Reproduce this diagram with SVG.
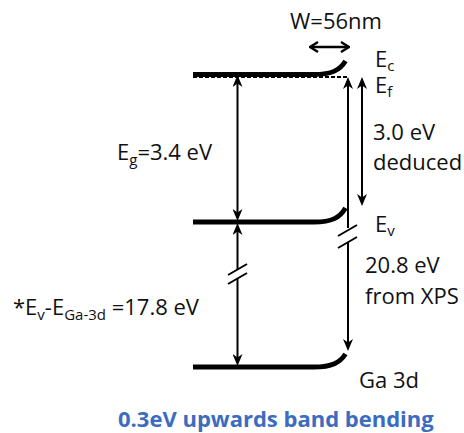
<svg xmlns="http://www.w3.org/2000/svg" width="464" height="433" viewBox="0 0 464 433">
<defs>
<marker id="ah" viewBox="0 0 12 10" refX="7" refY="5" markerWidth="12" markerHeight="10" markerUnits="userSpaceOnUse" orient="auto-start-reverse">
<path d="M0,0 L12,5 L0,10 L3.5,5 z" fill="#000"/>
</marker>
<marker id="oh" viewBox="0 0 10 12" refX="9" refY="6" markerWidth="10" markerHeight="12" markerUnits="userSpaceOnUse" orient="auto-start-reverse">
<path d="M1,1 L9,6 L1,11" fill="none" stroke="#000" stroke-width="2.4"/>
</marker>
<style>
.t{font-family:"Open Sans","Liberation Sans",sans-serif;font-size:22px;fill:#111}
.s{font-size:15px}
.band{fill:none;stroke:#000;stroke-width:4.8}
.arr{fill:none;stroke:#000;stroke-width:2}
.brk{fill:none;stroke:#000;stroke-width:2}
.blue{font-family:"Open Sans","Liberation Sans",sans-serif;font-size:22px;font-weight:bold;fill:#3C6CBF}
</style>
</defs>
<g id="Ec-band">
<path class="band" d="M193,74.5 H314 C332,74.5 340,70 345.5,61"/>
</g>
<g id="Ef-level">
<line x1="193" y1="77" x2="347" y2="77" stroke="#000" stroke-width="1.8" stroke-dasharray="4 2"/>
</g>
<g id="Ev-band">
<path class="band" d="M193,222 H314 C332,222 340,217.5 345.5,208"/>
</g>
<g id="Ga3d-band">
<path class="band" d="M193,367 H314 C332,367 340,362.5 345.5,354"/>
</g>
<g id="connectors">
<line class="arr" x1="237.5" y1="80" x2="237.5" y2="216" marker-start="url(#ah)" marker-end="url(#ah)"/>
<line class="arr" x1="237.5" y1="228" x2="237.5" y2="269.5" marker-start="url(#ah)"/>
<line class="arr" x1="237.5" y1="278.5" x2="237.5" y2="361" marker-end="url(#ah)"/>
<path class="brk" d="M228,275 L247,264 M228,284 L247,273"/>
<line class="arr" x1="348" y1="82" x2="348" y2="228" marker-start="url(#ah)"/>
<line class="arr" x1="348" y1="242" x2="348" y2="346" marker-end="url(#ah)"/>
<path class="brk" d="M338,236 L357,225 M338,248 L357,237"/>
<line class="arr" x1="362" y1="82" x2="362" y2="201" marker-start="url(#ah)" marker-end="url(#ah)"/>
<line x1="310" y1="47" x2="349" y2="47" stroke="#000" stroke-width="2.4" marker-start="url(#oh)" marker-end="url(#oh)"/>
</g>
<g id="labels">
<text class="t" x="290" y="29">W=56nm</text>
<text class="t" x="375" y="67">E<tspan class="s" dy="4">c</tspan></text>
<text class="t" x="375" y="93">E<tspan class="s" dy="4">f</tspan></text>
<text class="t" x="373" y="140">3.0 eV</text>
<text class="t" x="373" y="170">deduced</text>
<text class="t" x="375" y="232">E<tspan class="s" dy="4">v</tspan></text>
<text class="t" x="365" y="273">20.8 eV</text>
<text class="t" x="365" y="304">from XPS</text>
<text class="t" x="359" y="388">Ga 3d</text>
<text class="t" x="117" y="160">E<tspan class="s" dy="5">g</tspan><tspan dy="-5">=3.4 eV</tspan></text>
<text class="t" x="13" y="315">*E<tspan class="s" dy="5">v</tspan><tspan dy="-5">-E</tspan><tspan class="s" dy="5">Ga-3d</tspan><tspan dy="-5"> =17.8 eV</tspan></text>
<text class="blue" x="118" y="427">0.3eV upwards band bending</text>
</g>
</svg>
